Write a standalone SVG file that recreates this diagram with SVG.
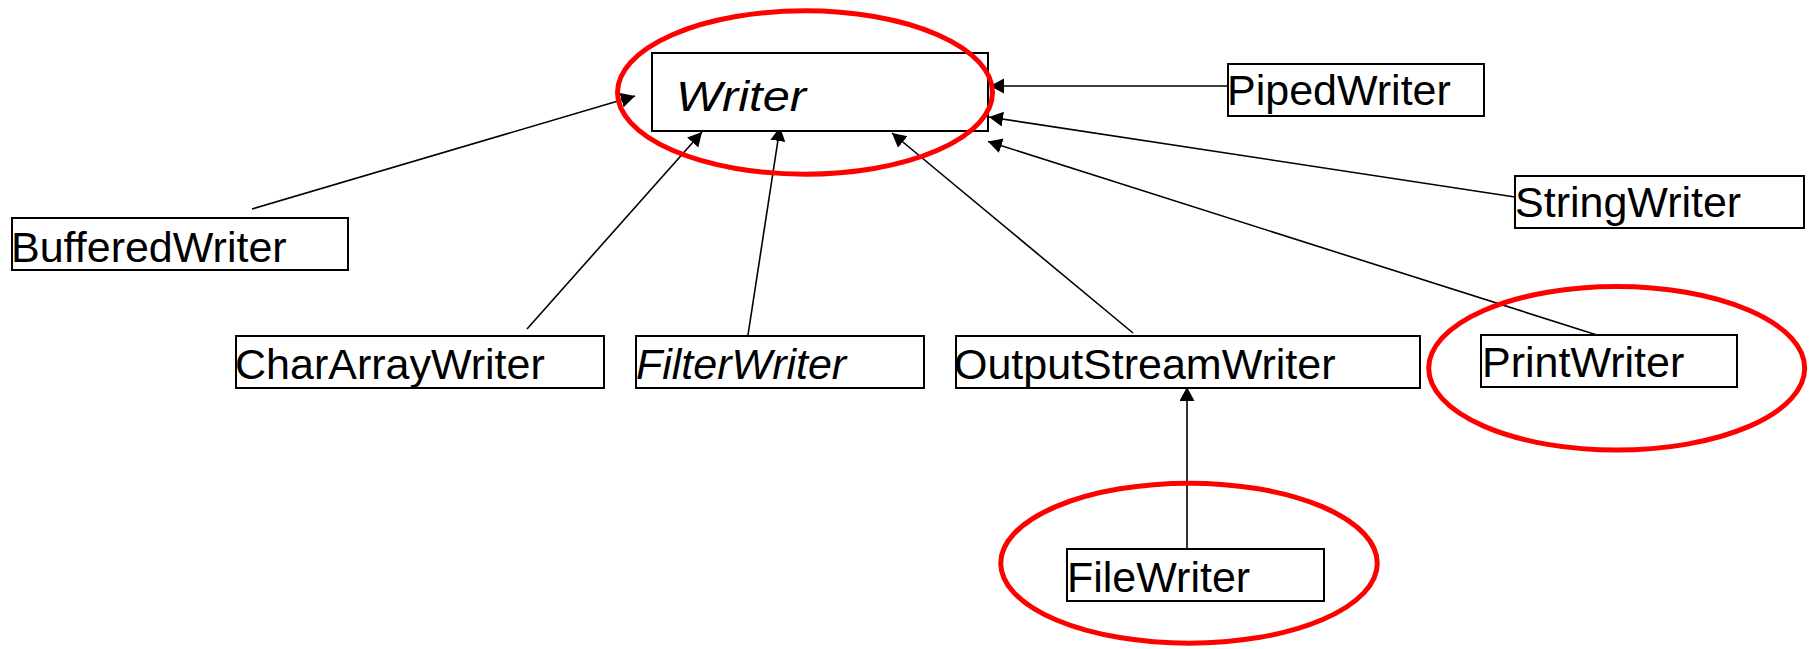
<svg xmlns="http://www.w3.org/2000/svg" width="1815" height="649" viewBox="0 0 1815 649">
<style>
  .box { fill: #fff; stroke: #000; stroke-width: 2; }
  .lbl { font-family: "Liberation Sans", Arial, sans-serif; font-size: 43px; fill: #000; }
  .it { font-style: italic; }
  .conn { stroke: #000; stroke-width: 1.6; fill: none; marker-end: url(#arr); }
  .hl { fill: none; stroke: #f00; stroke-width: 5; }
</style>
<defs>
  <marker id="arr" markerUnits="userSpaceOnUse" markerWidth="16" markerHeight="16" refX="14" refY="7.5" orient="auto">
    <path d="M0,0 L14,7.5 L0,15 z" fill="#000"/>
  </marker>
</defs>
<rect width="1815" height="649" fill="#fff"/>
<g id="connectors">
  <line class="conn" x1="252" y1="209" x2="635" y2="96"/>
  <line class="conn" x1="527" y1="329" x2="702" y2="132"/>
  <line class="conn" x1="748" y1="335" x2="780" y2="127"/>
  <line class="conn" x1="1133" y1="333" x2="892" y2="133"/>
  <line class="conn" x1="1228" y1="86" x2="990" y2="86"/>
  <line class="conn" x1="1515" y1="197" x2="989" y2="117"/>
  <line class="conn" x1="1597" y1="335" x2="988" y2="141.5"/>
  <line class="conn" x1="1187" y1="549" x2="1187" y2="387"/>
</g>
<g id="Writer">
  <rect class="box" x="652" y="53" width="336" height="78"/>
  <text class="lbl it" x="676" y="111" font-size="49" textLength="130" lengthAdjust="spacingAndGlyphs">Writer</text>
</g>
<g id="PipedWriter">
  <rect class="box" x="1228" y="64" width="256" height="52"/>
  <text class="lbl" x="1227" y="105">PipedWriter</text>
</g>
<g id="StringWriter">
  <rect class="box" x="1515" y="176" width="289" height="52"/>
  <text class="lbl" x="1515" y="217">StringWriter</text>
</g>
<g id="BufferedWriter">
  <rect class="box" x="12" y="218" width="336" height="52"/>
  <text class="lbl" x="11" y="262">BufferedWriter</text>
</g>
<g id="CharArrayWriter">
  <rect class="box" x="236" y="336" width="368" height="52"/>
  <text class="lbl" x="235" y="379">CharArrayWriter</text>
</g>
<g id="FilterWriter">
  <rect class="box" x="636" y="336" width="288" height="52"/>
  <text class="lbl it" x="636" y="379" font-size="44">FilterWriter</text>
</g>
<g id="OutputStreamWriter">
  <rect class="box" x="956" y="336" width="464" height="52"/>
  <text class="lbl" x="954" y="378.5">OutputStreamWriter</text>
</g>
<g id="PrintWriter">
  <rect class="box" x="1481" y="335" width="256" height="52"/>
  <text class="lbl" x="1482" y="377">PrintWriter</text>
</g>
<g id="FileWriter">
  <rect class="box" x="1067" y="549" width="257" height="52"/>
  <text class="lbl" x="1067" y="592">FileWriter</text>
</g>
<g id="highlights">
  <ellipse class="hl" cx="805" cy="92.5" rx="187.5" ry="81.7"/>
  <ellipse class="hl" cx="1616.7" cy="368.3" rx="188" ry="81.8"/>
  <ellipse class="hl" cx="1189" cy="563.2" rx="188.3" ry="80"/>
</g>
</svg>
